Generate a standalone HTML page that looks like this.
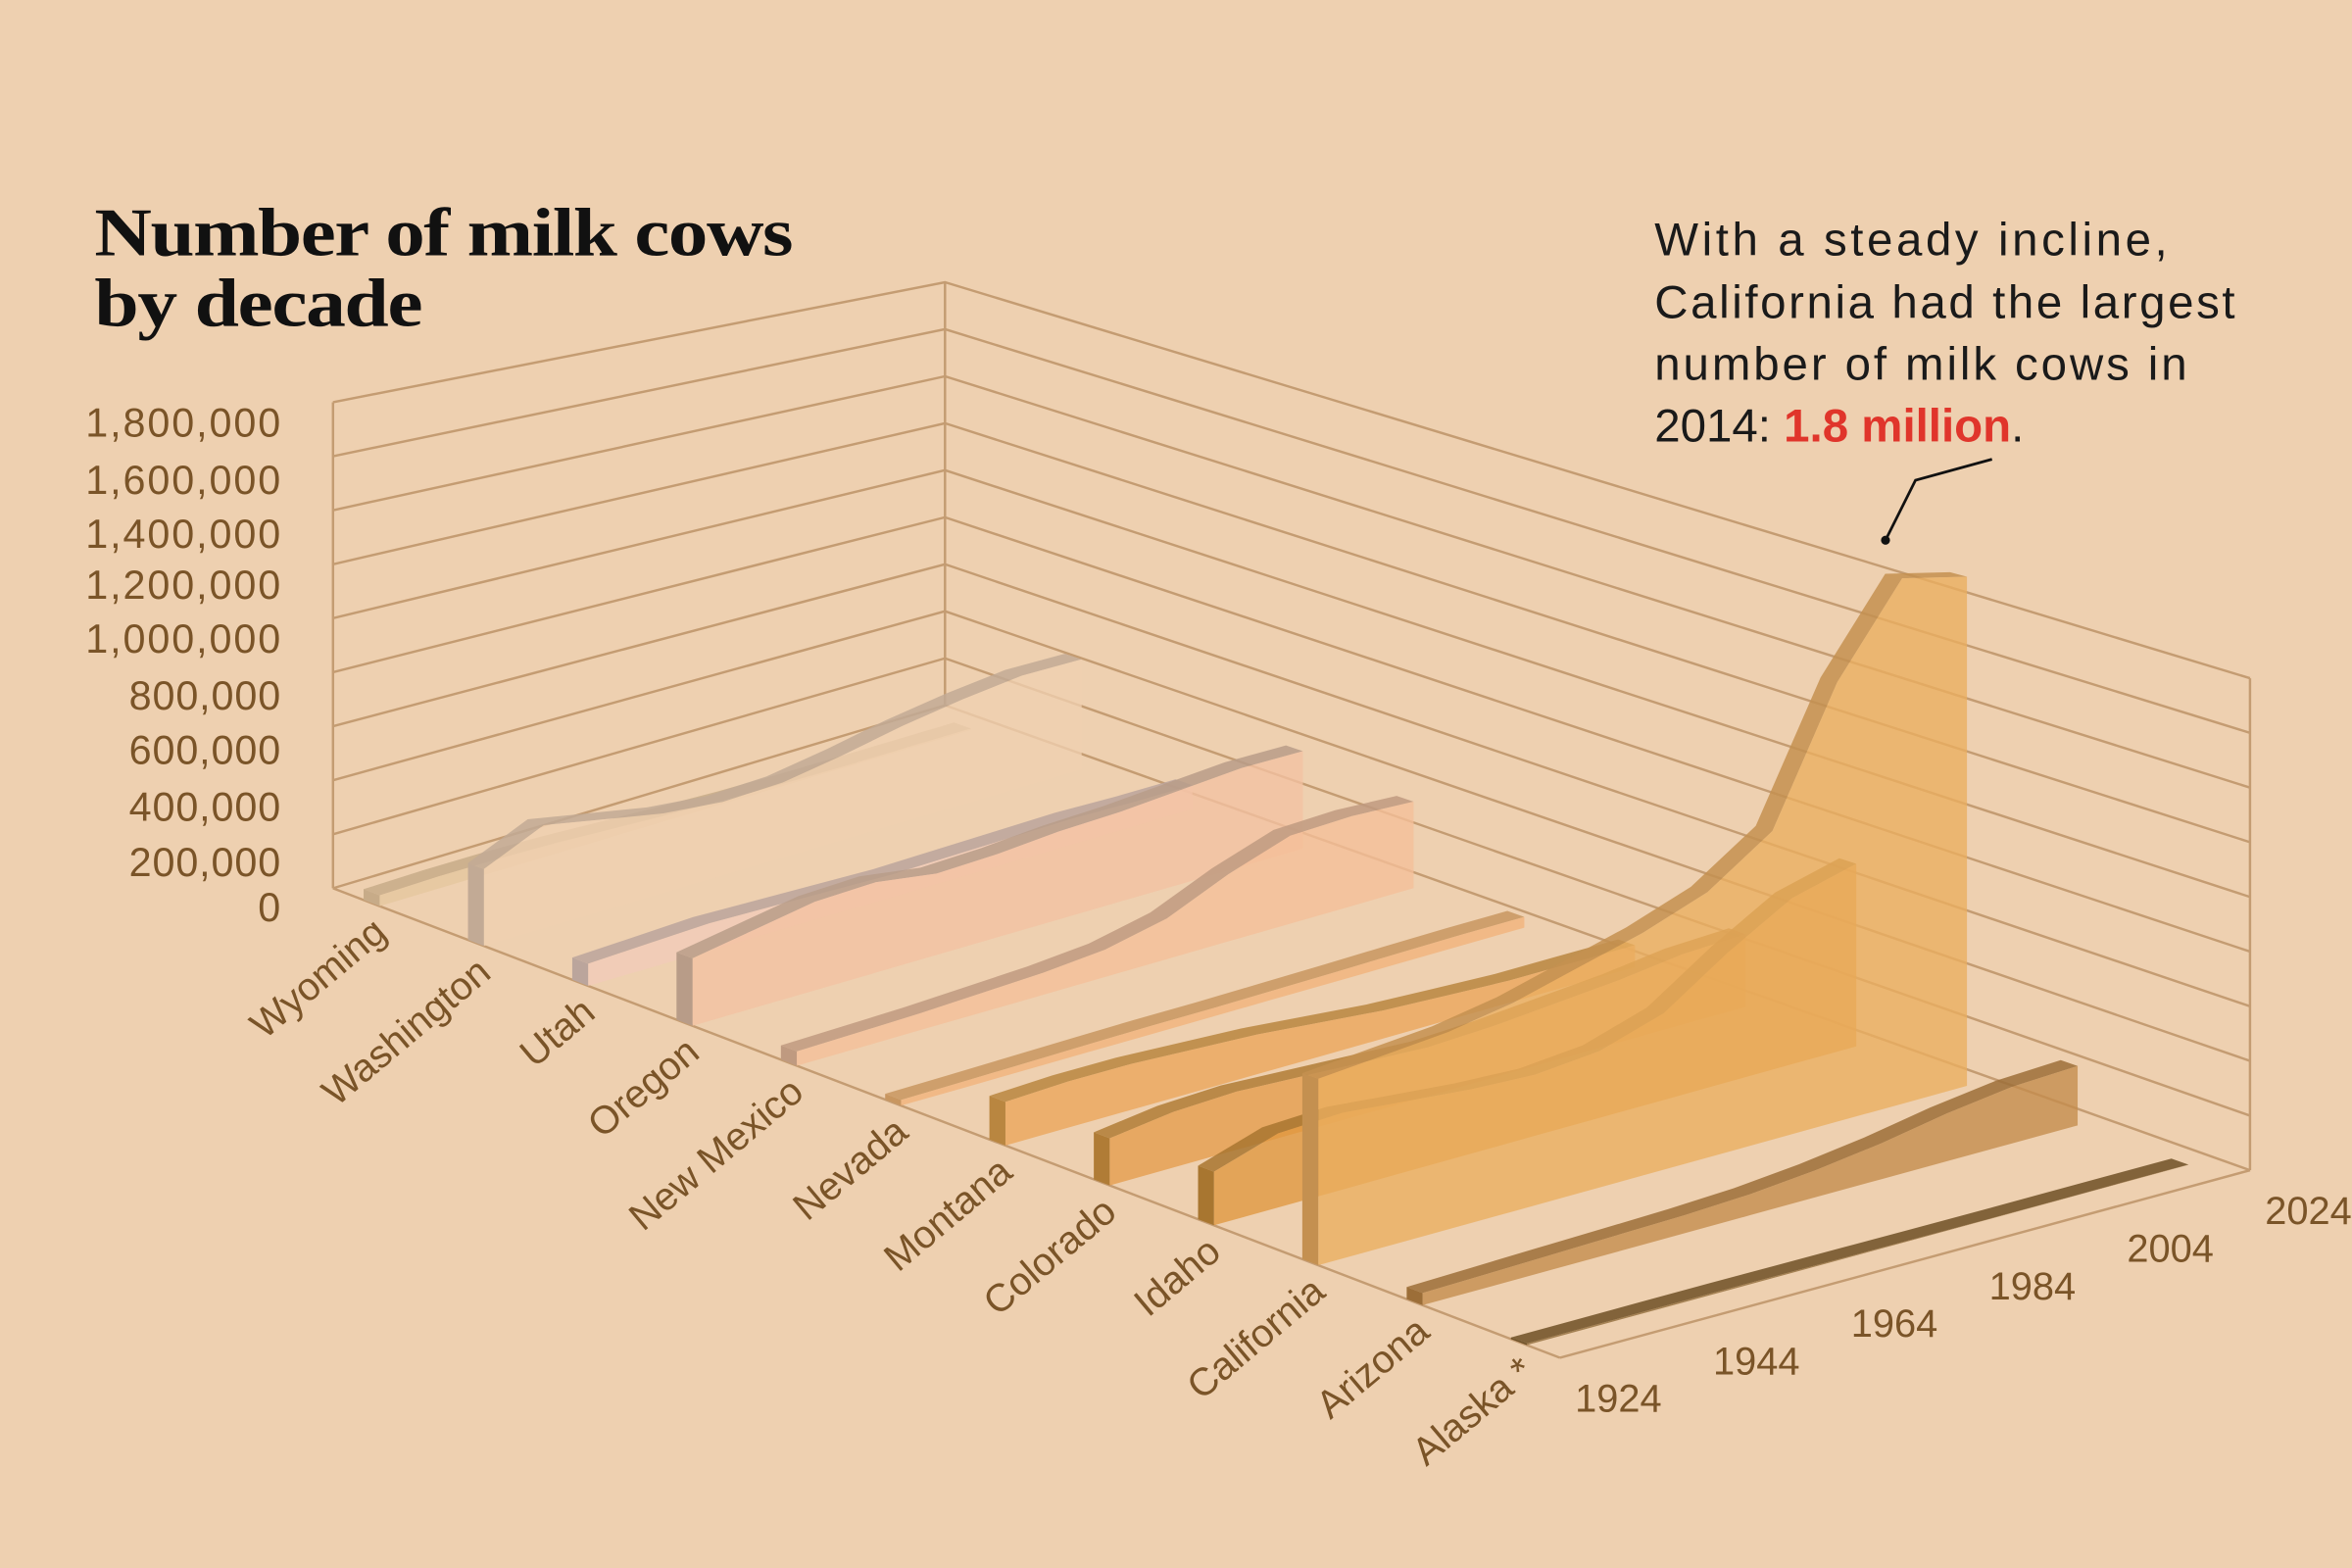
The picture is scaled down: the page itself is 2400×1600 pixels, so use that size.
<!DOCTYPE html>
<html><head><meta charset="utf-8"><style>
html,body{margin:0;padding:0;background:#eed0b0;}
svg{display:block}
</style></head><body>
<svg id="chart" width="2400" height="1600" viewBox="0 0 1568 1045" xmlns="http://www.w3.org/2000/svg">
<rect width="1568" height="1045" fill="#eed0b0"/>
<g font-family="Liberation Serif, serif" font-weight="bold" font-size="46" fill="#111" letter-spacing="-0.8">
<text x="63" y="170" textLength="465" lengthAdjust="spacingAndGlyphs">Number of milk cows</text>
<text x="63" y="217" textLength="218" lengthAdjust="spacingAndGlyphs">by decade</text>
</g>
<g font-family="Liberation Sans, sans-serif" font-size="31" fill="#1a1a1a">
<text x="1103" y="170" textLength="342">With a steady incline,</text>
<text x="1103" y="212" textLength="387">California had the largest</text>
<text x="1103" y="253" textLength="355">number of milk cows in</text>
<text x="1103" y="294">2014: <tspan fill="#e0352b" font-weight="bold">1.8 million</tspan>.</text>
</g>
<g id="grid"></g>
<g id="axes"></g>
<g id="series"></g>
<g id="labels"></g>
<polyline points="1328,306 1277,320 1257,360" fill="none" stroke="#111" stroke-width="1.8"/>
<circle cx="1257" cy="360" r="3" fill="#111"/>
</svg>
<script>
const states = ["Wyoming","Washington","Utah","Oregon","New Mexico","Nevada","Montana","Colorado","Idaho","California","Arizona","Alaska *"];
const years = [1924,1934,1944,1954,1964,1974,1984,1994,2004,2014,2024];
const yearTicks = [1924,1944,1964,1984,2004,2024];
const valueTicks = [0,200000,400000,600000,800000,1000000,1200000,1400000,1600000,1800000];
const valueTickLabels = ["0","200,000","400,000","600,000","800,000","1,000,000","1,200,000","1,400,000","1,600,000","1,800,000"];
const wyoming   = [40,45,45,40,30,20,12,8,6,6,6];
const washington= [280,380,340,300,280,290,330,380,420,450,450];
const utah      = [80,90,100,95,90,85,90,95,100,95,95];
const oregon    = [240,280,320,330,300,310,330,340,360,380,380];
const newMexico = [50,55,60,70,80,100,150,250,330,340,330];
const nevada    = [20,22,25,28,30,30,32,35,38,40,40];
const montana   = [150,160,160,150,140,120,100,90,80,80,80];
const colorado  = [160,190,200,190,180,170,180,200,220,250,260];
const idaho     = [180,250,260,240,220,210,230,300,450,580,640];
const california= [620,640,660,700,760,820,900,1050,1500,1800,1750];
const arizona   = [40,45,50,55,60,70,90,120,160,190,200];
const alaska    = [5,5,5,5,4,3,2,1,1,1,1];
const seriesVals = [wyoming,washington,utah,oregon,newMexico,nevada,montana,colorado,idaho,california,arizona,alaska];
const colors = ["#e6c79e","#efcfb0","#f2cbb8","#f3c2a2","#f5bf98","#f2b27a","#eca55a","#e59c4c","#e0973f","#eaae5f","#c48c4c","#8f6a38"];
const edges  = ["#c7ab88","#c2aa95","#bba59c","#b89c88","#bf9a80","#c89660","#b98640","#b07c36","#a87630","#c49050","#9c6e38","#6e5026"];

const NS="http://www.w3.org/2000/svg";
const P00=[222,592],P10=[1040,905],P01=[630,470],P11=[1500,780];
const H00=324,H10=370,H01=282,H11=365;
function base(t,u){
  const x=(1-t)*(1-u)*P00[0]+t*(1-u)*P10[0]+(1-t)*u*P01[0]+t*u*P11[0];
  const y=(1-t)*(1-u)*P00[1]+t*(1-u)*P10[1]+(1-t)*u*P01[1]+t*u*P11[1];
  return [x,y];
}
function hScale(t,u){return (1-t)*(1-u)*H00+t*(1-u)*H10+(1-t)*u*H01+t*u*H11;}
function proj(t,year,val){
  const u=(year-1924)/104; const b=base(t,u);
  return [b[0], b[1]-val/1800*hScale(t,u)];
}
function stateT(i){return 0.038+i*0.085;}
function mk(tag,attrs,parent){const e=document.createElementNS(NS,tag);for(const k in attrs)e.setAttribute(k,attrs[k]);parent.appendChild(e);return e;}
const pts=a=>a.map(p=>p[0].toFixed(1)+","+p[1].toFixed(1)).join(" ");

const grid=document.getElementById('grid');
valueTicks.forEach((v,k)=>{
  const f=v/1800000;
  const a=[222,592-324*f], b=[630,470-282*f], c=[1500,780-328*f];
  const l=mk('polyline',{points:pts([a,b,c]),fill:'none',stroke:'#c49c72','stroke-width':1.6},grid);
  
  
});
const axes=document.getElementById('axes');
[[[222,268],[222,592]],[[630,188],[630,470]],[[1500,452],[1500,780]],[[222,592],[1040,905]],[[1040,905],[1500,780]]].forEach((s,k)=>{
  const l=mk('line',{x1:s[0][0],y1:s[0][1],x2:s[1][0],y2:s[1][1],stroke:'#c49c72','stroke-width':1.6},axes);
  
  
});

const sg=document.getElementById('series');
seriesVals.forEach((vals,i)=>{
  const t=stateT(i), tb=t-0.013;
  const g=mk('g',{},sg);
  
  
  const top=years.map((y,k)=>proj(t,y,vals[k]));
  const topB=years.map((y,k)=>proj(tb,y,vals[k]));
  const bot=years.map(y=>proj(t,y,0)).reverse();
  const strip=mk('polygon',{points:pts(topB.concat(top.slice().reverse())),fill:edges[i],opacity:0.85},g);
  
  
  const face=mk('polygon',{points:pts(top.concat(bot)),fill:colors[i],opacity:0.78},g);
  
  
  const endFace=mk('polygon',{points:pts([proj(tb,1924,vals[0]),proj(t,1924,vals[0]),proj(t,1924,0),proj(tb,1924,0)]),fill:edges[i]},g);
  
  
});

const lg=document.getElementById('labels');
states.forEach((s,i)=>{
  const b=base(stateT(i),0);
  const x=b[0]+6, y=b[1]+20;
  const tx=mk('text',{x:x,y:y,'text-anchor':'end',transform:`rotate(-40 ${x} ${y})`,'font-family':'Liberation Sans, sans-serif','font-size':26,fill:'#7a5428'},lg);
  tx.textContent=s;
  
  
});
yearTicks.forEach(y=>{
  const u=(y-1924)/100; const b=base(1,u);
  const tx=mk('text',{x:b[0]+10,y:b[1]+36,'font-family':'Liberation Sans, sans-serif','font-size':26,fill:'#7a5428'},lg);
  tx.textContent=y;
  
  
});
const labelY=[605,575,538,500,464,426,390,356,320,282];
valueTicks.forEach((v,k)=>{
  const tx=mk('text',{x:187,y:labelY[k]+9,'text-anchor':'end','font-family':'Liberation Sans, sans-serif','font-size':27,fill:'#7a5428',textLength:(valueTickLabels[k].length*14.4).toFixed(0)},lg);
  tx.textContent=valueTickLabels[k];
  
  
});
</script>
</body></html>
